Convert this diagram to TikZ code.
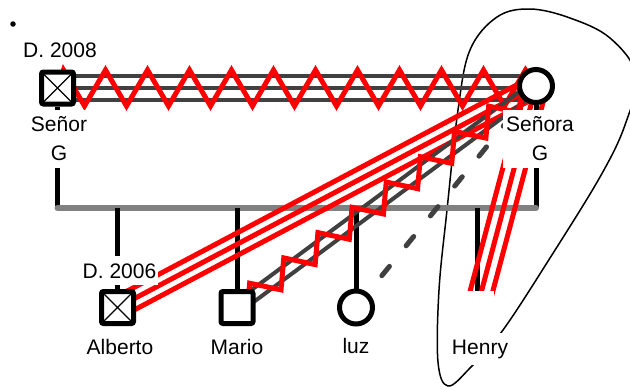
\documentclass[tikz,border=0pt]{standalone}
\usepackage{fontspec}
\setmainfont{Liberation Sans}
\usetikzlibrary{calc,decorations.pathmorphing}
\pgfdeclarelayer{background}
\pgfsetlayers{background,main}
\definecolor{dgray}{HTML}{404040}
\definecolor{mgray}{HTML}{808080}
\begin{document}
\begin{tikzpicture}[x=1pt,y=-1pt,
  person/.style={draw, line width=5pt, fill=white, inner sep=0pt},
  male/.style={person, rectangle, rounded corners=2pt, minimum size=32pt},
  female/.style={person, circle, minimum size=33pt},
  dead/.style={path picture={\draw[line width=1.2pt] (path picture bounding box.north west) -- (path picture bounding box.south east) (path picture bounding box.north east) -- (path picture bounding box.south west);}},
  lbl/.style={font=\fontsize{21}{29}\selectfont, fill=white, inner xsep=3pt, inner ysep=6.5pt},
  kin/.style={line width=5pt},
  sibbar/.style={mgray, line width=6pt, line cap=round},
  bond/.style={dgray, line width=4pt},
  hostile/.style={red, line width=5pt, line join=miter},
  conflict/.style={red, line width=5pt},
  distant/.style={dgray, line width=5pt, line cap=round, dash pattern=on 12pt off 26.5pt, dash phase=36pt},
  blob/.style={line width=1.5pt}
  ]
\useasboundingbox (0,0) rectangle (630,389);

% persons
\node[male, dead] (senor) at (57.5,88) {};
\node[female] (senora) at (536,86) {};
\node[male, dead] (alberto) at (117.5,307.5) {};
\node[male] (mario) at (237,307.5) {};
\node[female] (luz) at (356,307.5) {};
\node[rectangle, fill=white, minimum size=34pt, inner sep=0pt] (henry) at (477,308) {};
\node[circle, fill, inner sep=0pt, minimum size=5.5pt] (dot) at (13,24) {};

% labels
\node[lbl, anchor=base] (d2008) at (60,57) {D. 2008};
\node[lbl, align=center] (lsenor) at (59,139) {Señor\\G};
\node[lbl, align=center] (lsenora) at (540,139) {Señora\\G};
\node[lbl, anchor=base, inner xsep=2pt, inner ysep=7pt] (d2006) at (119.5,278) {D. 2006};
\node[lbl, anchor=base] (lalberto) at (120,354) {Alberto};
\node[lbl, anchor=base] (lmario) at (237,354) {Mario};
\node[lbl, anchor=base] (lluz) at (356,353) {luz};
\node[lbl, anchor=base] (lhenry) at (480,354) {Henry};

\begin{pgfonlayer}{background}
  \begin{scope}
    \clip (0,0) rectangle (630,389);
    \draw[blob] plot[smooth cycle, tension=0.6] coordinates {
      (458,110) (470,50) (497,17) (530,9) (570,18) (610,38) (636,75)
      (625,125) (600,177) (550,258) (503,330) (470,368) (448,386)
      (438,362) (439,290) (447,210)};
  \end{scope}

  \coordinate (barL) at (57.5,208);
  \draw[kin] (senor) -- (barL);
  \draw[kin] (senora) -- (senora |- barL);
  \draw[sibbar] (barL) -- (senora |- barL);
  \foreach \c in {alberto, mario, luz, henry}
    \draw[kin] (\c |- barL) -- (\c);

  % Senor -- Senora
  \foreach \o in {-12,0,12}
    \draw[bond] ($(senor.center)+(0,\o)$) -- ($(senora.center |- senor.center)+(0,\o)$);
  \draw[hostile] (senor.center) -- ++(6,-18)
    \foreach \i in {1,...,11} { -- ++(21,36) -- ++(21,-36) } -- (senora.center);

  % Alberto -- Senora
  \foreach \o in {-10,0,10}
    \draw[conflict] ($(alberto.center)!\o pt!90:(senora.center)$) -- ($(senora.center)!\o pt!-90:(alberto.center)$);

  % Mario -- Senora
  \foreach \o in {-5.5,5.5}
    \draw[bond] ($(mario.center)!\o pt!90:(senora.center)$) -- ($(senora.center)!\o pt!-90:(mario.center)$);
  \draw[hostile, decorate, decoration={zigzag, segment length=42.5pt, amplitude=12pt}]
    ($(mario.center)!14pt!(senora.center)$) -- (senora.center);

  % luz -- Senora
  \draw[distant] (luz.center) -- (senora.center);

  % Henry -- Senora
  \foreach \o in {-11,0,11}
    \draw[conflict] ($(henry.center)!\o pt!90:(senora.center)$) -- ($(senora.center)!\o pt!-90:(henry.center)$);
\end{pgfonlayer}
\end{tikzpicture}
\end{document}
